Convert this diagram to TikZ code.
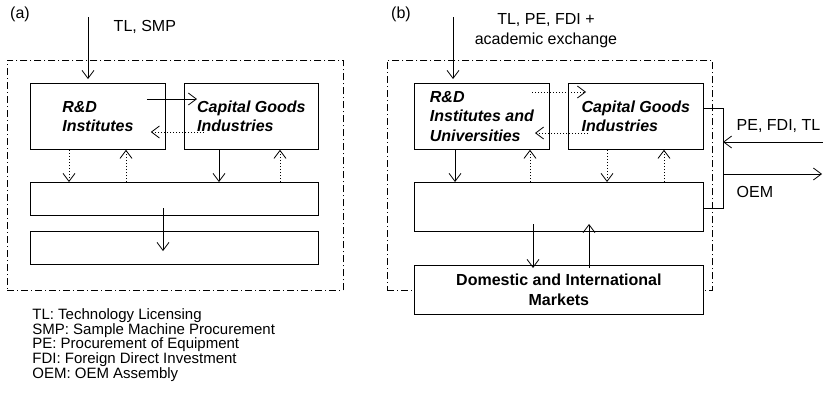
\documentclass[tikz,border=0pt]{standalone}
\usepackage{fontspec}
\setmainfont{Liberation Sans}
\usepackage{tikz}
\usetikzlibrary{arrows.meta}
\usetikzlibrary{calc}

\begin{document}
\begin{tikzpicture}[
        x=1pt, y=-1pt,
        line width=0.8pt,
        font=\fontsize{16}{19.5}\selectfont,
        unit/.style={
            rectangle, anchor=north west,
            draw=black, fill=white,
            inner sep=0pt, align=left,
        },
        zone/.style={
            rectangle, anchor=north west,
            draw=black, line width=0.7pt,
            dash pattern=on 7pt off 3pt on 1pt off 3pt,
        },
        actor/.style={font=\fontsize{16}{19.5}\selectfont\bfseries\itshape},
        flow/.style={-{Straight Barb[length=8pt,width=12pt]}},
        feedback/.style={flow, dash pattern=on 1pt off 2pt},
    ]
    \useasboundingbox (0,0) rectangle (823,402);

    % panel (a)
    \node (tagA) at(20,14) {(a)};
    \node (zoneA) at(7,60) [zone, minimum width=336pt, minimum height=230pt] {};
    \node (rdA) at(30,83) [
        unit, actor,
        minimum width=135pt, minimum height=66pt,
    ] {R\&D\\Institutes};
    \node (capA) at(184,83) [
        unit, actor,
        minimum width=134pt, minimum height=66pt,
    ] {Capital Goods\\Industries};
    \node (midA) at(30,182) [unit, minimum width=288pt, minimum height=33pt] {};
    \node (botA) at(30,231) [unit, minimum width=288pt, minimum height=33pt] {};

    \coordinate (inA) at(88,17);
    \node (srcA) at(110,27) [anchor=west] {TL, SMP};
    \draw[flow] (inA) -- ($(rdA.north west)+(58,-4)$);

    \draw[flow] ($(rdA.north east)+(-19,16)$) -- ($(capA.north west)+(13,16)$);
    \draw[feedback] ($(capA.north west)+(20,49)$) -- ($(rdA.north east)+(-15,49)$);
    \draw[feedback] ($(rdA.south west)+(39,0)$) -- ($(midA.north west)+(39,0)$);
    \draw[feedback] ($(midA.north west)+(96,0)$) -- ($(rdA.south west)+(96,0)$);
    \draw[flow] ($(capA.south west)+(35,0)$) -- ($(midA.north west)+(189,0)$);
    \draw[feedback] ($(midA.north west)+(250,0)$) -- ($(capA.south west)+(96,0)$);
    \draw[flow] ($(midA.north west)+(133,26)$) -- ($(botA.north west)+(133,20)$);

    % panel (b)
    \node (tagB) at(401,14) {(b)};
    \node (zoneB) at(387,60) [zone, minimum width=325pt, minimum height=230pt] {};
    \node (rdB) at(414,83) [
        unit, actor,
        minimum width=135pt, minimum height=66pt,
    ] {R\&D\\Institutes and\\Universities};
    \node (capB) at(568,83) [
        unit, actor,
        minimum width=135pt, minimum height=66pt,
    ] {Capital Goods\\Industries};
    \node (midB) at(414,182) [unit, minimum width=289pt, minimum height=49pt] {};
    \node (mktB) at(414,265) [
        unit, align=center,
        minimum width=289pt, minimum height=49pt,
        font=\fontsize{16}{19.5}\selectfont\bfseries,
    ] {Domestic and International\\Markets};

    \coordinate (inB) at(453,17);
    \node (srcB) at(546,30.5) [align=center] {TL, PE, FDI +\\academic exchange};
    \draw[flow] (inB) -- ($(rdB.north west)+(39,-4)$);

    \draw[feedback] ($(rdB.north west)+(118,9)$) -- ($(capB.north west)+(18,9)$);
    \draw[feedback] ($(capB.north west)+(20,50)$) -- ($(rdB.north west)+(121,50)$);
    \draw[flow] ($(rdB.south west)+(41,0)$) -- ($(midB.north west)+(41,0)$);
    \draw[feedback] ($(midB.north west)+(116,0)$) -- ($(rdB.south west)+(116,0)$);
    \draw[feedback] ($(capB.south west)+(39,0)$) -- ($(midB.north west)+(193,0)$);
    \draw[feedback] ($(midB.north west)+(250,0)$) -- ($(capB.south west)+(96,0)$);
    \draw[flow] ($(midB.north west)+(119,42)$) -- ($(mktB.north west)+(119,3)$);
    \draw[flow] ($(mktB.north west)+(175,3)$) -- ($(midB.north west)+(175,42)$);

    % foreign link
    \coordinate (brkTop) at(723,108);
    \coordinate (brkBot) at(723,208);
    \draw (capB.east |- brkTop) -- (brkTop) -- (brkBot) -- (midB.east |- brkBot);
    \coordinate (peIn) at(823,142);
    \coordinate (oemOut) at(822,174);
    \draw[flow] (peIn) -- (peIn -| brkTop);
    \draw[flow] (oemOut -| brkTop) -- (oemOut);
    \node (peLbl) at(733,126) [anchor=west] {PE, FDI, TL};
    \node (oemLbl) at(733,192) [anchor=west] {OEM};

    % legend
    \node (legend) at(32,345) [
        anchor=west, align=left, inner sep=0pt,
        font=\fontsize{15}{14.75}\selectfont,
    ] {TL: Technology Licensing\\
       SMP: Sample Machine Procurement\\
       PE: Procurement of Equipment\\
       FDI: Foreign Direct Investment\\
       OEM: OEM Assembly};
\end{tikzpicture}
\end{document}
